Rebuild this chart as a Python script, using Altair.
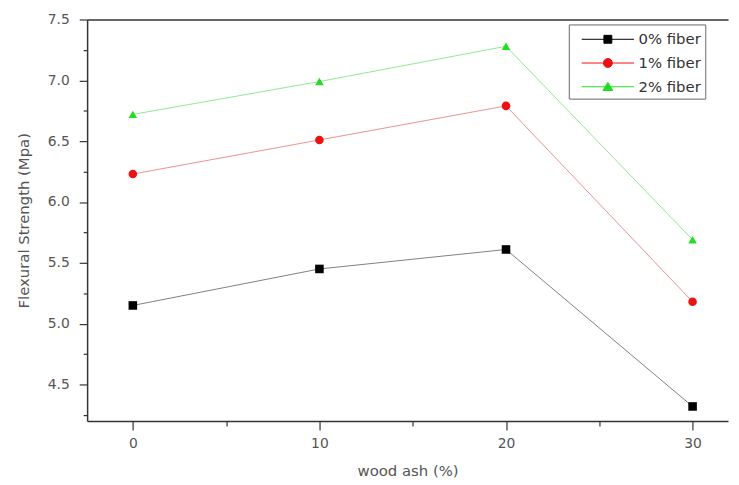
import altair as alt
import pandas as pd

wood_ash = [0, 10, 20, 30]
series_names = ["0% fiber", "1% fiber", "2% fiber"]
fiber0 = [5.15, 5.45, 5.61, 4.32]
fiber1 = [6.23, 6.51, 6.79, 5.18]
fiber2 = [6.72, 6.99, 7.28, 5.69]

y_ticks = [4.25, 4.5, 4.75, 5.0, 5.25, 5.5, 5.75, 6.0, 6.25, 6.5, 6.75, 7.0, 7.25, 7.5]
x_ticks = [0, 5, 10, 15, 20, 25, 30]

line_colors = ["#808080", "#f09090", "#90e890"]
marker_colors = ["#000000", "#ee1111", "#22dd22"]
marker_shapes = ["square", "circle", "triangle-up"]
legend_paths = [
    "M-2.52,0H2.52M-0.38,-0.38H0.38V0.38H-0.38Z",
    "M-2.52,0H2.52M-0.43,0A0.43,0.43 0 1,0 0.43,0A0.43,0.43 0 1,0 -0.43,0Z",
    "M-2.52,0H2.52M0,-0.42L0.48,0.36L-0.48,0.36Z",
]

rows = []
for name, vals in zip(series_names, [fiber0, fiber1, fiber2]):
    for xv, yv in zip(wood_ash, vals):
        rows.append({"ash": xv, "strength": yv, "series": name})
df = pd.DataFrame(rows)

FONT = "DejaVu Sans"
xscale = alt.Scale(domain=[-2.45, 31.9], nice=False, zero=False)
yscale = alt.Scale(domain=[4.2, 7.5], nice=False, zero=False)

base = alt.Chart(df)

x_minor_test = "datum.value % 10 != 0"
y_minor_test = "(round(datum.value * 4) % 2) != 0"

lines = base.mark_line(strokeWidth=1).encode(
    x=alt.X("ash:Q", scale=xscale,
            axis=alt.Axis(values=x_ticks, title="wood ash (%)", orient="bottom",
                          labelExpr="datum.value % 10 != 0 ? '' : datum.label",
                          format="d",
                          tickSize={"condition": {"test": x_minor_test, "value": 5}, "value": 9},
                          labelPadding=7, titlePadding=13, grid=False)),
    y=alt.Y("strength:Q", scale=yscale,
            axis=alt.Axis(values=y_ticks, title="Flexural Strength (Mpa)", orient="left",
                          labelExpr="(round(datum.value * 4) % 2) != 0 ? '' : format(datum.value, '.1f')",
                          tickSize={"condition": {"test": y_minor_test, "value": 4}, "value": 8},
                          labelPadding=10, titlePadding=16, grid=False)),
    color=alt.Color("series:N", scale=alt.Scale(domain=series_names, range=line_colors), legend=None),
    detail="series:N",
)

points = base.mark_point(filled=True, opacity=1, size=75).encode(
    x=alt.X("ash:Q", scale=xscale, axis=None),
    y=alt.Y("strength:Q", scale=yscale, axis=None),
    color=alt.Color("series:N", scale=alt.Scale(domain=series_names, range=marker_colors), legend=None),
    shape=alt.Shape("series:N", scale=alt.Scale(domain=series_names, range=marker_shapes), legend=None),
)

top = base.mark_point(opacity=0).encode(
    x=alt.X("ash:Q", scale=xscale,
            axis=alt.Axis(orient="top", labels=False, ticks=False, domain=True,
                          title=None, grid=False)),
    y=alt.Y("strength:Q", scale=yscale, axis=None),
)

leg = alt.Legend(title=None, orient="none", legendX=487, legendY=5,
                 symbolSize=441, symbolOffset=24.5, labelOffset=20,
                 rowPadding=5, padding=4, strokeColor="#666666",
                 labelFont=FONT, labelFontSize=15, labelColor="#333333",
                 symbolStrokeWidth=1, symbolOpacity=1)

legend_layer = base.mark_point(filled=True, strokeWidth=1).encode(
    fill=alt.Fill("series:N", scale=alt.Scale(domain=series_names, range=marker_colors), legend=leg),
    stroke=alt.Stroke("series:N", scale=alt.Scale(domain=series_names, range=marker_colors), legend=leg),
    shape=alt.Shape("series:N", scale=alt.Scale(domain=series_names, range=legend_paths), legend=leg),
).transform_filter(alt.datum.ash < -100)

chart = alt.layer(lines, points, top, legend_layer).resolve_scale(
    color="independent", shape="independent", fill="independent", stroke="independent"
).resolve_axis(
    x="independent", y="independent"
).properties(
    width=648, height=406,
    autosize=alt.AutoSizeParams(type="none"),
    padding={"left": 80, "top": 9, "right": 3, "bottom": 60},
).configure_view(
    stroke=None
).configure_axis(
    domainColor="#333333", domainWidth=1.5,
    tickColor="#333333", tickWidth=1.2,
    labelFont=FONT, labelFontSize=14, labelColor="#555555",
    titleFont=FONT, titleFontSize=15, titleColor="#555555", titleFontWeight="normal",
)

chart.save("out.html", embed_options={"renderer": "svg", "actions": False})
